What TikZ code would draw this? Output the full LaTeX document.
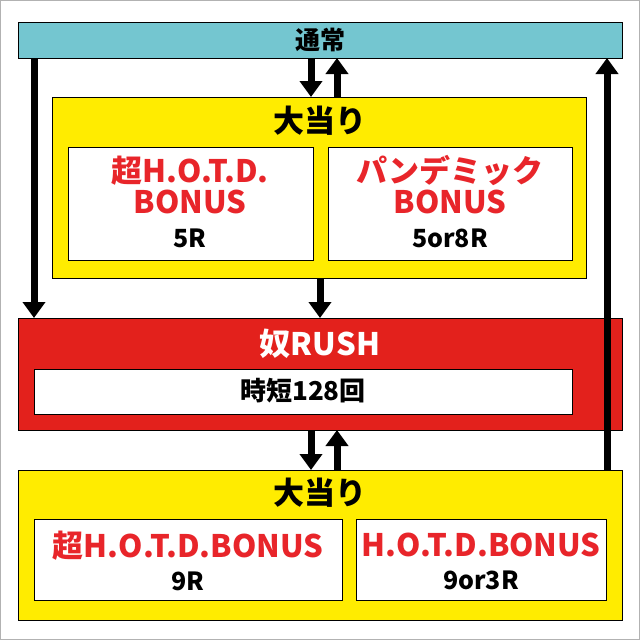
\documentclass[tikz,border=0pt]{standalone}
\usepackage{fontspec}
\setmainfont{Noto Sans CJK JP}[BoldFont={* Black}]
\usetikzlibrary{arrows.meta}
\definecolor{teal1}{HTML}{74C6D0}
\definecolor{yel}{HTML}{FFEC00}
\definecolor{redb}{HTML}{E3211C}
\definecolor{redt}{HTML}{E8252A}
\tikzset{
 box/.style={draw=black,line width=1pt},
 inner/.style={draw=black,line width=0.8pt,fill=white},
 arr/.style={line width=7pt,-{Triangle[length=16pt,width=22pt]}},
 ttl/.style={font=\bfseries\fontsize{31}{33}\selectfont},
 lbl/.style={font=\bfseries\fontsize{31}{31}\selectfont,align=center,inner sep=0pt},
 sm/.style={},
}
\newcommand{\smr}{\fontsize{25}{27}\selectfont}
\begin{document}
\begin{tikzpicture}[x=1pt,y=-1pt]
\useasboundingbox (0,0) rectangle (640,640);
\draw[gray!60,line width=0.8pt] (0.5,0.5) rectangle (639.5,639.5);
% top bar
\draw[box,fill=teal1] (18,22) rectangle (622,58);
\node[font=\bfseries\fontsize{25}{27}\selectfont] (tsu) at (320,40) {通常};
% box 1
\draw[box,fill=yel] (52,97) rectangle (586,278);
\node[ttl] (t1) at (320,121) {大当り};
\draw[inner] (68,147) rectangle (313,260);
\draw[inner] (328,147) rectangle (572,260);
\node[lbl] (a1) at (190,202) {\textcolor{redt}{超H.O.T.D.}\\\textcolor{redt}{BONUS}\\[3pt]{\smr 5R}};
\node[lbl] (a2) at (450,202) {\textcolor{redt}{パンデミック}\\\textcolor{redt}{BONUS}\\[3pt]{\smr 5or8R}};
% RUSH
\draw[box,fill=redb] (18,318) rectangle (622,430);
\node[ttl,text=white] (r) at (320,344) {奴RUSH};
\draw[inner] (34,369) rectangle (572,414);
\node[lbl,font=\bfseries\fontsize{26}{28}\selectfont] (j) at (303,391) {時短128回};
% bottom
\draw[box,fill=yel] (18,470) rectangle (622,620);
\node[ttl] (t2) at (320,493) {大当り};
\draw[inner] (34,519) rectangle (342,600);
\draw[inner] (356,519) rectangle (606,600);
\node[lbl] (b1) at (188,561) {\textcolor{redt}{超H.O.T.D.BONUS}\\[2pt]{\smr 9R}};
\node[lbl] (b2) at (481,561) {\textcolor{redt}{H.O.T.D.BONUS}\\[2pt]{\smr 9or3R}};
% arrows
\coordinate (l1) at (34,58); \coordinate (l2) at (34,318);
\draw[arr] (l1) -- (l2);
\coordinate (q1) at (607,470); \coordinate (q2) at (607,58);
\draw[arr] (q1) -- (q2);
\coordinate (m1) at (311,58); \coordinate (m2) at (311,97);
\coordinate (n1) at (337,97); \coordinate (n2) at (337,58);
\draw[arr] (m1) -- (m2); \draw[arr] (n1) -- (n2);
\coordinate (c1) at (320,278); \coordinate (c2) at (320,318);
\draw[arr] (c1) -- (c2);
\coordinate (d1) at (311,430); \coordinate (d2) at (311,470);
\coordinate (e1) at (337,470); \coordinate (e2) at (337,430);
\draw[arr] (d1) -- (d2); \draw[arr] (e1) -- (e2);
\end{tikzpicture}
\end{document}
